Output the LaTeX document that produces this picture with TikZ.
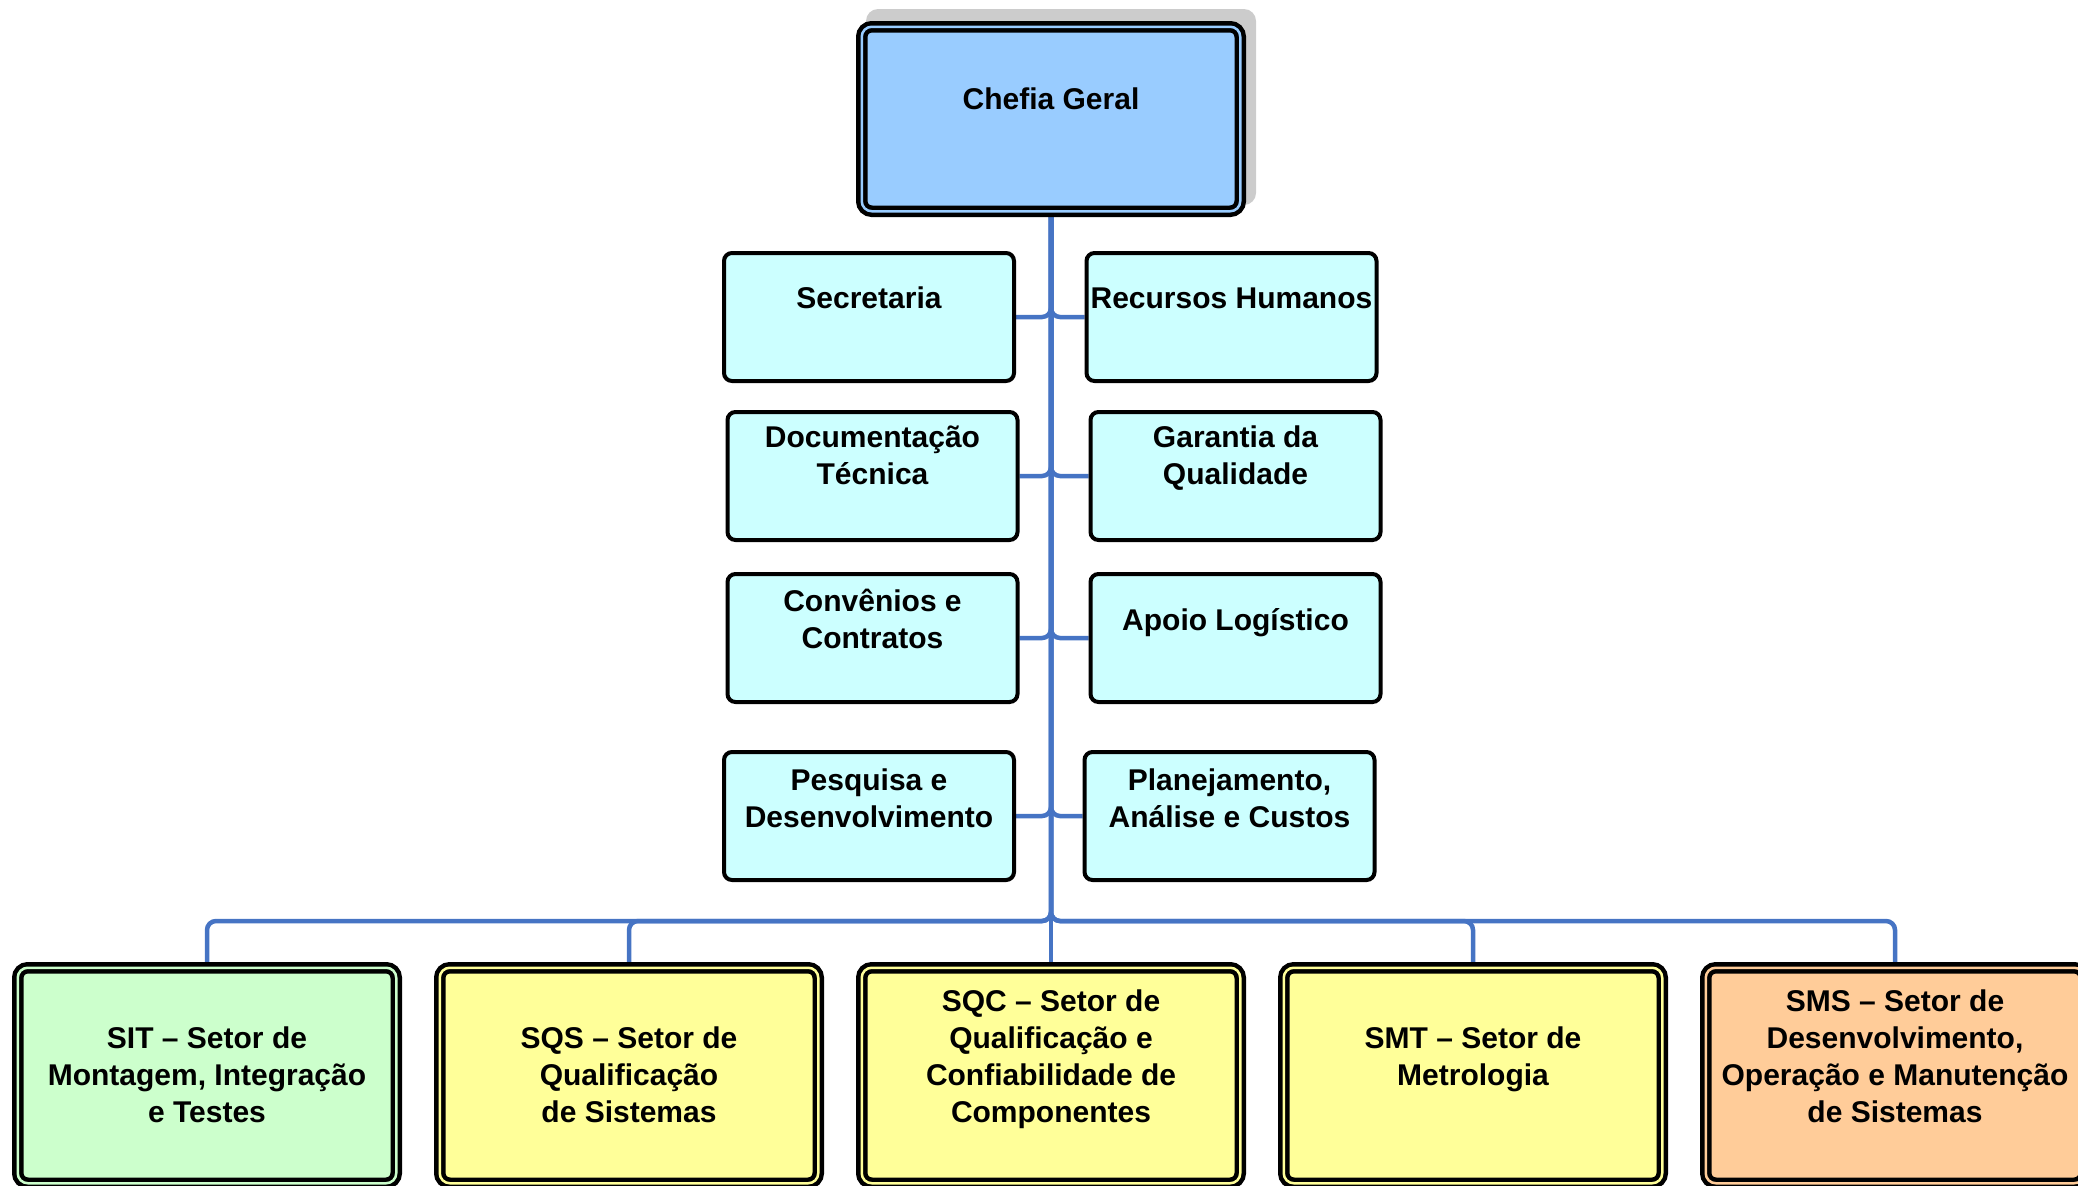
\documentclass[tikz,border=0pt]{standalone}
\usepackage{fontspec}
\setmainfont{Liberation Sans}
\usetikzlibrary{backgrounds}
\definecolor{connc}{RGB}{70,116,196}
\definecolor{shadowc}{RGB}{204,204,204}
\definecolor{chefiac}{RGB}{153,204,255}
\definecolor{staffc}{RGB}{204,255,255}
\definecolor{greenc}{RGB}{204,255,204}
\definecolor{yellowc}{RGB}{255,255,153}
\definecolor{orangec}{RGB}{255,204,153}
\begin{document}
\begin{tikzpicture}[x=1pt,y=-1pt,
  link/.style={draw=connc, line width=4.5pt, rounded corners=9pt},
  smallbox/.style={draw=black, line width=4pt, fill=staffc, rounded corners=8pt,
    minimum width=290pt, minimum height=128pt, inner sep=0pt},
  bigbox/.style={draw=black, line width=4.5pt, double=#1, double distance=2.5pt,
    fill=#1, rounded corners=10pt, minimum width=378.5pt, inner sep=0pt},
  txt/.style={font=\fontsize{30}{37}\selectfont\bfseries, align=center, anchor=base, inner sep=0pt}]
\useasboundingbox (0,0) rectangle (2078,1186);

% top box (text anchored at the baseline of its last line)
\node[bigbox=chefiac, minimum height=184.5pt] (chefia) at (1051,119) {};
\node[txt] (tchefia) at (1051,109) {Chefia Geral};

% staff boxes
\node[smallbox] (sec) at (869,317) {};
\node[txt] (tsec) at (869,308) {Secretaria};
\node[smallbox] (rh) at (1231.5,317) {};
\node[txt] (trh) at (1231.5,308) {Recursos Humanos};

\node[smallbox] (doc) at (872.5,476) {};
\node[txt] (tdoc) at (872.5,484) {Documentação\\Técnica};
\node[smallbox] (gq) at (1235.5,476) {};
\node[txt] (tgq) at (1235.5,484) {Garantia da\\Qualidade};

\node[smallbox] (conv) at (872.5,638) {};
\node[txt] (tconv) at (872.5,648) {Convênios e\\Contratos};
\node[smallbox] (apoio) at (1235.5,638) {};
\node[txt] (tapoio) at (1235.5,630) {Apoio Logístico};

\node[smallbox] (pd) at (869,816) {};
\node[txt] (tpd) at (869,827) {Pesquisa e\\Desenvolvimento};
\node[smallbox] (plan) at (1229.5,816) {};
\node[txt] (tplan) at (1229.5,827) {Planejamento,\\Análise e Custos};

% sector boxes
\node[bigbox=greenc, minimum height=215.5pt] (sit) at (207,1075.5) {};
\node[txt] (tsit) at (207,1122) {SIT – Setor de\\Montagem, Integração\\e Testes};
\node[bigbox=yellowc, minimum height=215.5pt] (sqs) at (629,1075.5) {};
\node[txt] (tsqs) at (629,1122) {SQS – Setor de\\Qualificação\\de Sistemas};
\node[bigbox=yellowc, minimum height=215.5pt] (sqc) at (1051,1075.5) {};
\node[txt] (tsqc) at (1051,1122) {SQC – Setor de\\Qualificação e\\Confiabilidade de\\Componentes};
\node[bigbox=yellowc, minimum height=215.5pt] (smt) at (1473,1075.5) {};
\node[txt] (tsmt) at (1473,1085) {SMT – Setor de\\Metrologia};
\node[bigbox=orangec, minimum height=215.5pt] (sms) at (1895,1075.5) {};
\node[txt] (tsms) at (1895,1122) {SMS – Setor de\\Desenvolvimento,\\Operação e Manutenção\\de Sistemas};

\begin{scope}[on background layer]
  \fill[shadowc, rounded corners=12pt] (866,9) rectangle (1256,205);
  \draw[link] (chefia.south) |- (sec.east);
  \draw[link] (chefia.south) |- (rh.west);
  \draw[link] (chefia.south) |- (doc.east);
  \draw[link] (chefia.south) |- (gq.west);
  \draw[link] (chefia.south) |- (conv.east);
  \draw[link] (chefia.south) |- (apoio.west);
  \draw[link] (chefia.south) |- (pd.east);
  \draw[link] (chefia.south) |- (plan.west);
  \coordinate (bus) at (1051,921);
  \draw[link] (chefia.south) -- (bus) -| (sit.north);
  \draw[link] (chefia.south) -- (bus) -| (sqs.north);
  \draw[link] (chefia.south) -- (sqc.north);
  \draw[link] (chefia.south) -- (bus) -| (smt.north);
  \draw[link] (chefia.south) -- (bus) -| (sms.north);
\end{scope}
\end{tikzpicture}
\end{document}
